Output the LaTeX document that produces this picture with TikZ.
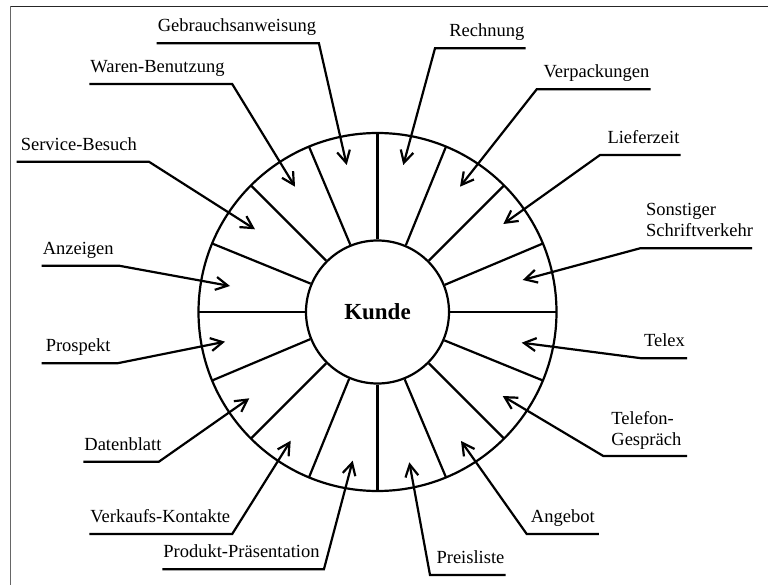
\documentclass[tikz,border=0pt]{standalone}
\usepackage{fontspec}
\setmainfont{Liberation Serif}
\usetikzlibrary{arrows.meta}

\begin{document}
\begin{tikzpicture}[x=1pt, y=-1pt, line width=2.2pt,
    lbl/.style={font=\fontsize{18.5}{21}\selectfont, inner xsep=0pt, inner ysep=10.5pt,
      text depth=0pt, anchor=south west},
    arr/.style={-{Straight Barb[length=12pt,width=13pt]}}]
  \useasboundingbox (0,0) rectangle (768,585);

  % Frame
  \draw[black!85, line width=1.3pt] (10.5,6.5) -- (768,6.5);
  \draw[black!60, line width=1.3pt] (10.5,6.5) -- (10.5,585);

  % Customer in the middle
  \node[circle, draw, minimum size=143pt, inner sep=0pt,
    font=\fontsize{23}{28}\selectfont\bfseries] (kunde) at (377.5,312) {Kunde};
  \draw (kunde.center) circle[radius=179pt];

  % Ring sectors
  \foreach \a in {0,22.5,...,337.5}
    \draw (kunde.\a) -- ([shift={(\a:179pt)}]kunde.center);

  % Arrow tips inside the ring
  \coordinate (tGebr) at (346.7,165);
  \coordinate (tWaren) at (295,186.7);
  \coordinate (tServ) at (255,229.3);
  \coordinate (tAnz) at (230,286);
  \coordinate (tProsp) at (225,341.7);
  \coordinate (tDaten) at (249.3,398.3);
  \coordinate (tVerk) at (290.7,440.7);
  \coordinate (tProd) at (352.7,460.7);
  \coordinate (tRech) at (403.3,165);
  \coordinate (tVerp) at (460,186.7);
  \coordinate (tLief) at (503.3,224);
  \coordinate (tSonst) at (522.7,280);
  \coordinate (tTelex) at (521.7,342.7);
  \coordinate (tTelef) at (502.7,396);
  \coordinate (tAngeb) at (461,441);
  \coordinate (tPreis) at (409.3,462.3);

  % Labels, left half
  \node[lbl, text width=160pt, align=left] (gebr) at (156.7,43.3) {Gebrauchsanweisung};
  \node[lbl, text width=140.7pt, align=left] (waren) at (89.3,84) {Waren-Benutzung};
  \node[lbl, text width=130pt, align=left] (serv) at (16.7,161.7) {\hspace*{3pt}Service-Besuch};
  \node[lbl, text width=75pt, align=left] (anz) at (41.7,265.7) {Anzeigen};
  \node[lbl, text width=73.3pt, align=left] (prosp) at (41.7,363.3) {\hspace*{3pt}Prospekt};
  \node[lbl, text width=73.4pt, align=left] (daten) at (83.3,461.7) {Datenblatt};
  \node[lbl, text width=140.7pt, align=left] (verk) at (89.3,534) {Verkaufs-Kontakte};
  \node[lbl, text width=159.4pt, align=left] (prod) at (162.3,569.3) {Produkt-Präsentation};

  % Labels, right half
  \node[lbl, text width=88.3pt, align=right] (rech) at (435,48.3) {Rechnung\hspace*{3pt}};
  \node[lbl, text width=111.6pt, align=right] (verp) at (536.7,89.3) {Verpackungen};
  \node[lbl, text width=78.3pt, align=right] (lief) at (600,155) {Lieferzeit};
  \node[lbl, text width=110pt, text depth=21pt, align=left] (sonst) at (640,248.3)
    {\hspace*{5pt}Sonstiger\\\hspace*{5pt}Schriftverkehr};
  \node[lbl, text width=43.3pt, align=center] (telex) at (641.7,358.3) {Telex};
  \node[lbl, text width=81.7pt, text depth=20pt, align=left] (telef) at (603.3,456)
    {\hspace*{7pt}Telefon-\\\hspace*{7pt}Gespräch};
  \node[lbl, text width=70pt, align=center] (angeb) at (526.7,534) {Angebot};
  \node[lbl, text width=73.3pt, align=right] (preis) at (430,575) {Preisliste};

  % Connectors, left half
  \draw[arr] (gebr.south west) -- (gebr.south east) -- (tGebr);
  \draw[arr] (waren.south west) -- (waren.south east) -- (tWaren);
  \draw[arr] (serv.south west) -- (serv.south east) -- (tServ);
  \draw[arr] (anz.south west) -- (anz.south east) -- (tAnz);
  \draw[arr] (prosp.south west) -- (prosp.south east) -- (tProsp);
  \draw[arr] (daten.south west) -- (daten.south east) -- (tDaten);
  \draw[arr] (verk.south west) -- (verk.south east) -- (tVerk);
  \draw[arr] (prod.south west) -- (prod.south east) -- (tProd);

  % Connectors, right half
  \draw[arr] (rech.south east) -- (rech.south west) -- (tRech);
  \draw[arr] (verp.south east) -- (verp.south west) -- (tVerp);
  \draw[arr] (lief.south east) -- (lief.south west) -- (tLief);
  \draw[arr] (sonst.south east) -- (sonst.south west) -- (tSonst);
  \draw[arr] (telex.south east) -- (telex.south west) -- (tTelex);
  \draw[arr] (telef.south east) -- (telef.south west) -- (tTelef);
  \draw[arr] (angeb.south east) -- (angeb.south west) -- (tAngeb);
  \draw[arr] (preis.south east) -- (preis.south west) -- (tPreis);
\end{tikzpicture}
\end{document}
